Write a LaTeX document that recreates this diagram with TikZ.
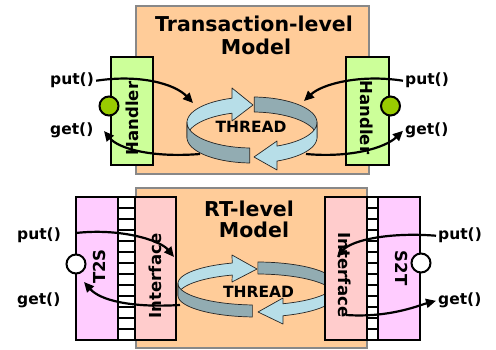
\documentclass[tikz,border=0pt]{standalone}
\usepackage{fontspec}
\setmainfont{DejaVu Sans}
\usetikzlibrary{arrows.meta}
\definecolor{peach}{HTML}{FFCC99}
\definecolor{framegray}{HTML}{888888}
\definecolor{handlergreen}{HTML}{CCFF99}
\definecolor{portgreen}{HTML}{99CC00}
\definecolor{xlpink}{HTML}{FFCCFF}
\definecolor{ifpink}{HTML}{FFCCCC}
\definecolor{lightband}{RGB}{183,222,232}
\definecolor{darkband}{RGB}{146,172,178}
\begin{document}
\begin{tikzpicture}[x=1pt,y=-1pt,
  lbl/.style={font=\fontsize{15.5}{18}\selectfont\bfseries, inner sep=0pt},
  ttl/.style={font=\fontsize{20.5}{24}\selectfont\bfseries, inner sep=0pt},
  side/.style={font=\fontsize{16.5}{18}\selectfont\bfseries, inner sep=0pt},
  modelbox/.style={fill=peach, draw=framegray, line width=2.5pt, inner sep=0pt},
  blockbox/.style={draw=black, line width=2.2pt, inner sep=0pt},
  port/.style={circle, draw=black, line width=2pt, minimum size=19pt, inner sep=0pt},
  rung/.style={draw=black, fill=white, line width=2pt},
  conn/.style={line width=2.2pt, -{Triangle[length=10pt,width=9pt]}},
  band/.style={draw=black!85, line width=0.7pt, line join=round},
]
\useasboundingbox (0,0) rectangle (496,350);

% ---------- transaction-level model ----------
\node[modelbox, minimum width=233pt, minimum height=168pt] (tlm) at (252.5,90) {};
\node[ttl, anchor=base] (tlmA) at (254,32) {Transaction-level};
\node[ttl, anchor=base] (tlmB) at (256,55) {Model};

% thread ring (top): back halves first, then front halves
\filldraw[band, fill=lightband]
  plot[domain=180:252, samples=30] ({252+65*cos(\x)},{122.5+25.5*sin(\x)})
  -- (232,88) -- (253,105) -- (232,121)
  -- plot[domain=252:180, samples=30] ({252+65*cos(\x)},{137.5+25.5*sin(\x)}) -- cycle;
\filldraw[band, fill=darkband]
  plot[domain=272:360, samples=30] ({252+65*cos(\x)},{122.5+25.5*sin(\x)})
  -- plot[domain=360:272, samples=30] ({252+65*cos(\x)},{137.5+25.5*sin(\x)}) -- cycle;
\filldraw[band, fill=darkband]
  plot[domain=92:180, samples=30] ({252+65*cos(\x)},{122.5+25.5*sin(\x)})
  -- plot[domain=180:92, samples=30] ({252+65*cos(\x)},{137.5+25.5*sin(\x)}) -- cycle;
\filldraw[band, fill=lightband]
  plot[domain=0:67.4, samples=30] ({252+65*cos(\x)},{122.5+25.5*sin(\x)})
  -- (277,141) -- (254,157) -- (277,170)
  -- plot[domain=67.4:0, samples=30] ({252+65*cos(\x)},{137.5+25.5*sin(\x)}) -- cycle;
\node[lbl, anchor=base] (thrT) at (251,133) {THREAD};

% handlers
\node[blockbox, fill=handlergreen, minimum width=42pt, minimum height=108pt] (hdlL) at (132,111) {};
\node[blockbox, fill=handlergreen, minimum width=43pt, minimum height=108pt] (hdlR) at (367.5,111) {};
\node[side, rotate=90] (hdlLt) at (132,118.5) {Handler};
\node[side, rotate=-90] (hdlRt) at (367,117.5) {Handler};
\node[port, fill=portgreen] (pL) at (109,106) {};
\node[port, fill=portgreen] (pR) at (390.5,106) {};

% method labels
\node[lbl, anchor=base west, inner xsep=2pt] (putTL) at (48,85) {put()};
\node[lbl, anchor=base west] (getTL) at (50,135) {get()};
\node[lbl, anchor=base west, inner xsep=2pt] (putTR) at (403,85) {put()};
\node[lbl, anchor=base west, inner xsep=2pt] (getTR) at (403,135) {get()};

% ---------- RT-level model ----------
\node[modelbox, minimum width=231pt, minimum height=160pt] (rtm) at (251.5,268) {};
\node[ttl, anchor=base] (rtmA) at (249,217) {RT-level};
\node[ttl, anchor=base] (rtmB) at (254,238) {Model};

% thread ring (bottom)
\filldraw[band, fill=lightband]
  plot[domain=180:252, samples=30] ({256.5+78.5*cos(\x)},{283.5+21.5*sin(\x)})
  -- (232,255) -- (257,269) -- (232,282)
  -- plot[domain=252:180, samples=30] ({256.5+78.5*cos(\x)},{295.5+21.5*sin(\x)}) -- cycle;
\filldraw[band, fill=darkband]
  plot[domain=271:360, samples=30] ({256.5+78.5*cos(\x)},{283.5+21.5*sin(\x)})
  -- plot[domain=360:271, samples=30] ({256.5+78.5*cos(\x)},{295.5+21.5*sin(\x)}) -- cycle;
\filldraw[band, fill=darkband]
  plot[domain=93:180, samples=30] ({256.5+78.5*cos(\x)},{283.5+21.5*sin(\x)})
  -- plot[domain=180:93, samples=30] ({256.5+78.5*cos(\x)},{295.5+21.5*sin(\x)}) -- cycle;
\filldraw[band, fill=lightband]
  plot[domain=0:70.3, samples=30] ({256.5+78.5*cos(\x)},{283.5+21.5*sin(\x)})
  -- (283,298) -- (258,312) -- (283,324)
  -- plot[domain=70.3:0, samples=30] ({256.5+78.5*cos(\x)},{295.5+21.5*sin(\x)}) -- cycle;
\node[lbl, anchor=base] (thrB) at (258.5,298) {THREAD};

% signal ladders between transactors and interfaces
\foreach \i in {0,...,12} {
  \draw[rung] (118,{197+11*\i}) rectangle (135,{197+11*(\i+1)});
  \draw[rung] (367,{197+11*\i}) rectangle (378,{197+11*(\i+1)});
}

% transactors and interfaces
\node[blockbox, fill=xlpink, minimum width=42pt, minimum height=143pt] (t2s) at (97,268.5) {};
\node[blockbox, fill=ifpink, minimum width=41pt, minimum height=143pt] (ifL) at (155.5,268.5) {};
\node[blockbox, fill=ifpink, minimum width=42pt, minimum height=143pt] (ifR) at (346,268.5) {};
\node[blockbox, fill=xlpink, minimum width=42pt, minimum height=143pt] (s2t) at (399,268.5) {};
\node[side, rotate=90] (t2sT) at (99,266.5) {T2S};
\node[side, rotate=90] (ifLT) at (155.5,276) {Interface};
\node[side, rotate=-90] (ifRT) at (345,275) {Interface};
\node[side, rotate=-90] (s2tT) at (402,268) {S2T};
\node[port, fill=white] (qL) at (76,264) {};
\node[port, fill=white] (qR) at (421,263) {};

\node[lbl, anchor=base west] (putBL) at (17,240) {put()};
\node[lbl, anchor=base west] (getBL) at (17,305) {get()};
\node[lbl, anchor=base west, inner xsep=2pt] (putBR) at (436,240) {put()};
\node[lbl, anchor=base west, inner xsep=2pt] (getBR) at (436,305) {get()};

% ---------- call paths ----------
\coordinate (inTL) at (193,103);
\coordinate (outTL) at (200,154);
\coordinate (tipTL) at (104,131);
\coordinate (inTR) at (304,101);
\coordinate (outTR) at (306,154);
\coordinate (inBL) at (174,257);
\coordinate (srcBL) at (76,233);
\coordinate (outBL) at (180,305);
\coordinate (tipBL) at (84,282);
\coordinate (inBR) at (337,257);
\coordinate (outBR) at (346,315);

\draw[conn] (putTL.east) .. controls (140,74) and (175,84) .. (inTL);
\draw[conn] (outTL) .. controls (150,158) and (118,148) .. (tipTL);
\draw[conn] (putTR.west) .. controls (360,74) and (322,84) .. (inTR);
\draw[conn] (outTR) .. controls (350,158) and (385,148) .. (getTR.west);

\draw[conn] (srcBL) .. controls (120,228) and (160,240) .. (inBL);
\draw[conn] (outBL) .. controls (130,308) and (100,300) .. (tipBL);
\draw[conn] (putBR.west) .. controls (390,232) and (352,240) .. (inBR);
\draw[conn] (outBR) .. controls (390,318) and (420,305) .. (getBR.west);
\end{tikzpicture}
\end{document}
